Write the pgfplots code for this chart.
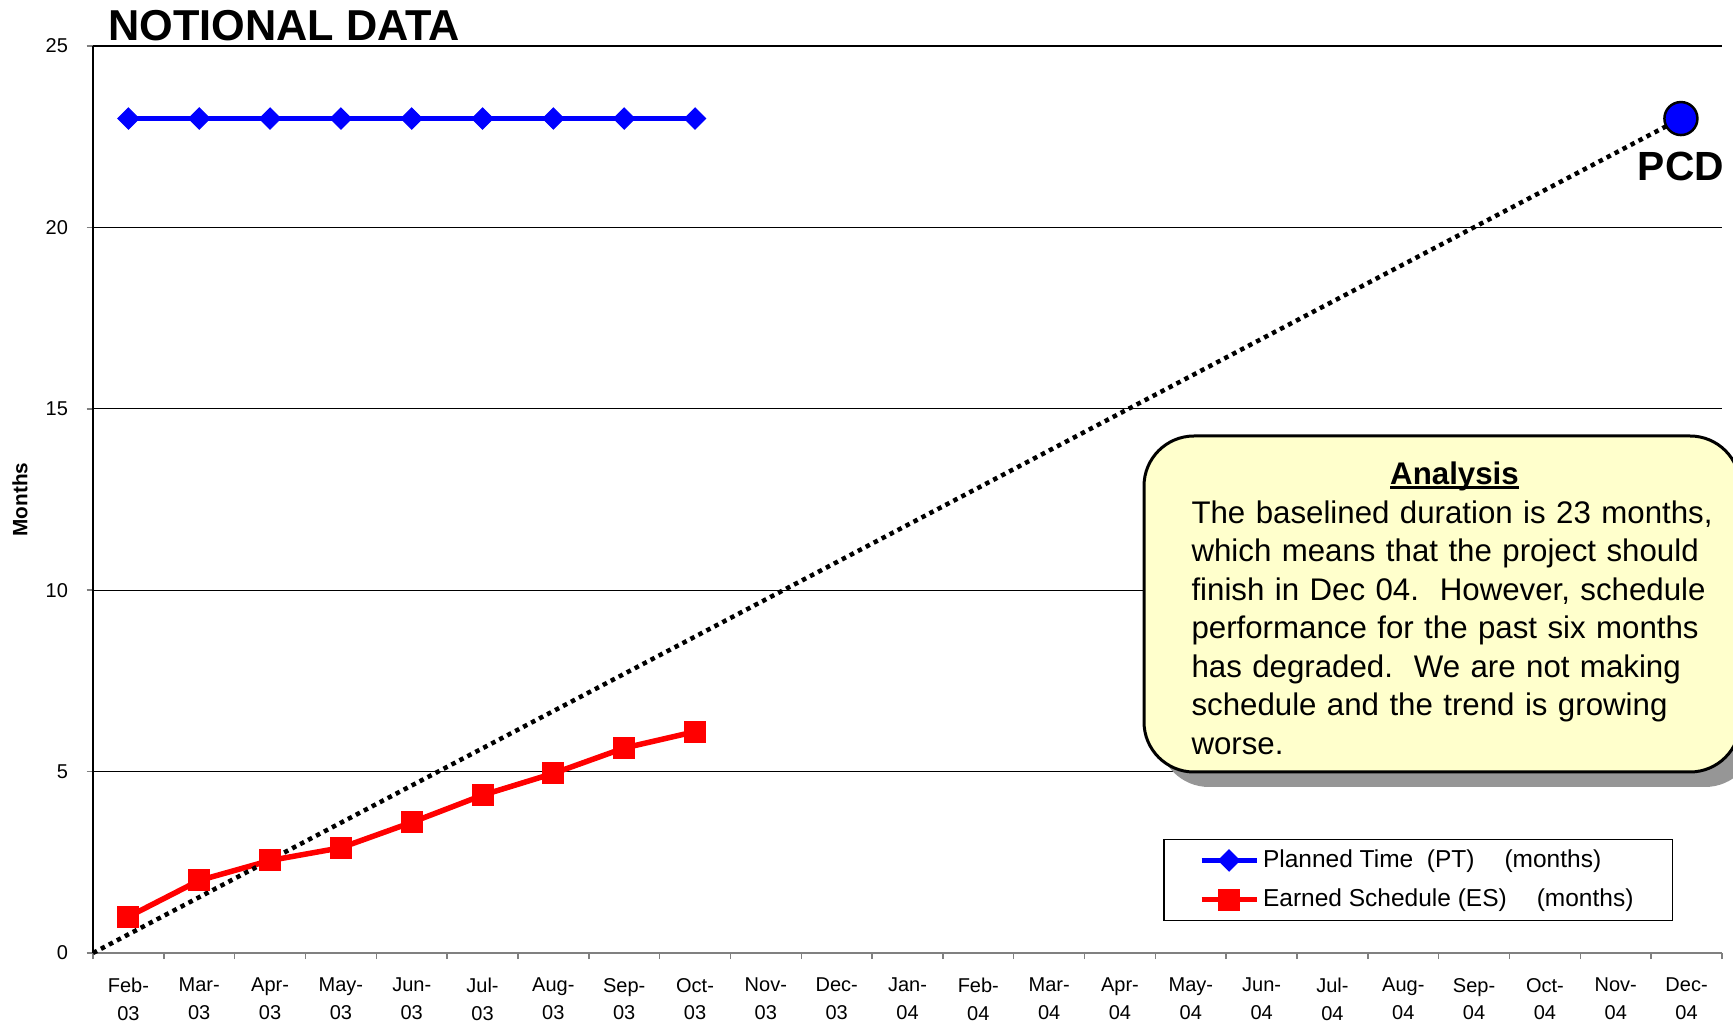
\documentclass[border=0pt]{standalone}
\usepackage{pgfplots}
\pgfplotsset{compat=1.18}
\usepackage{fontspec}
\setmainfont{Liberation Sans}
\usetikzlibrary{shadows}
\definecolor{ptblue}{RGB}{0,0,255}
\definecolor{esred}{RGB}{255,0,0}
\definecolor{boxfill}{RGB}{255,255,204}
\definecolor{shadowgray}{RGB}{150,150,150}
\definecolor{axgray}{RGB}{128,128,128}
\begin{document}
\begin{tikzpicture}
\begin{axis}[
  name=ax,
  at={(0,0)}, anchor=south west,
  width=651.6pt, height=362.8pt, scale only axis,
  xmin=-0.5, xmax=22.5, ymin=0, ymax=25,
  clip=false,
  axis x line*=bottom, axis y line*=left,
  x axis line style={draw=axgray, line width=0.9pt, -},
  y axis line style={draw=black, line width=0.6pt, -},
  xtick={-0.5,0.5,...,22.5},
  x tick label as interval,
  xticklabels={{Feb-\\03},{Mar-\\03},{Apr-\\03},{May-\\03},{Jun-\\03},{Jul-\\03},{Aug-\\03},{Sep-\\03},{Oct-\\03},{Nov-\\03},{Dec-\\03},{Jan-\\04},{Feb-\\04},{Mar-\\04},{Apr-\\04},{May-\\04},{Jun-\\04},{Jul-\\04},{Aug-\\04},{Sep-\\04},{Oct-\\04},{Nov-\\04},{Dec-\\04}},
  ytick={0,5,...,25},
  tick align=outside,
  major tick length=2.5pt,
  tick style={draw=axgray, line width=0.6pt},
  ymajorgrids,
  grid style={draw=black, line width=0.5pt},
  /pgf/number format/assume math mode=true,
  xticklabel style={align=center, font=\fontsize{8}{11}\selectfont, yshift=-4pt},
  yticklabel style={font=\fontsize{8}{9.6}\selectfont, xshift=-4pt},
  legend style={
    at={(axis description cs:1,0)}, anchor=south east,
    xshift=-19.6pt, yshift=12.7pt,
    draw=black, line width=0.6pt,
    font=\fontsize{9.8}{11.8}\selectfont,
    inner xsep=14pt, inner ysep=2pt,
    row sep=3.1pt,
    nodes={inner xsep=1.5pt},
  },
  legend cell align=left,
  legend image code/.code={
    \draw[mark repeat=2,mark phase=2,#1] plot coordinates {(0pt,0pt) (11pt,0pt) (22pt,0pt)};
  },
]
\addplot[color=ptblue, line width=2.2pt, mark=square*, mark size=3pt,
  mark options={rotate=45, line width=0.4pt, fill=ptblue}]
  coordinates {(0,23) (1,23) (2,23) (3,23) (4,23) (5,23) (6,23) (7,23) (8,23)};
\addlegendentry{Planned Time\ \ (PT)\hspace{12pt}(months)}
\addplot[color=esred, line width=2.2pt, mark=square*, mark size=4.2pt,
  mark options={line width=0.4pt, fill=esred}]
  coordinates {(0,1.0) (1,2.0) (2,2.55) (3,2.9) (4,3.6) (5,4.35) (6,4.95) (7,5.65) (8,6.1)};
\addlegendentry{Earned Schedule (ES)\hspace{12pt}(months)}
\addplot[forget plot, only marks, mark=*, mark size=6.6pt,
  mark options={fill=ptblue, draw=black, line width=1pt}]
  coordinates {(21.92,23)};
\addplot[forget plot, black, line width=1.8pt, dash pattern=on 1.8pt off 1.8pt]
  coordinates {(-0.5,0) (21.92,23)};
\node[anchor=base west, inner sep=0pt, font=\bfseries\fontsize{17.3}{20}\selectfont]
  at ([xshift=6pt,yshift=2.2pt]rel axis cs:0,1) {NOTIONAL DATA};
\node[anchor=north, inner sep=0pt, font=\bfseries\fontsize{16.3}{19}\selectfont]
  at ([yshift=-13.2pt]axis cs:21.92,23) {PCD};
\node[rotate=90, inner sep=0pt, font=\bfseries\fontsize{8.3}{10}\selectfont]
  at ([xshift=-29.2pt]rel axis cs:0,0.5) {Months};
\end{axis}
\fill[shadowgray, rounded corners=20pt]
  ([xshift=426.4pt,yshift=-162pt]ax.north west) rectangle ++(238.4pt,-134.4pt);
\draw[fill=boxfill, line width=1.2pt, rounded corners=20pt]
  ([xshift=420.4pt,yshift=-156pt]ax.north west) rectangle ++(238.4pt,-134.4pt);
\node[anchor=north west, inner sep=0pt, text width=235pt,
  font=\fontsize{12.5}{15.4}\selectfont]
  at ([xshift=439.2pt,yshift=-166.3pt]ax.north west)
  {\raggedright\makebox[210.4pt][c]{\bfseries\setbox0\hbox{Analysis}\rlap{\rule[-1.6pt]{\wd0}{1.1pt}}\box0}\par
  The baselined duration is 23 months,\\
  which means that the project should\\
  finish in Dec 04.\ \ However, schedule\\
  performance for the past six months\\
  has degraded.\ \ We are not making\\
  schedule and the trend is growing\\
  worse.};
\pgfresetboundingbox
\path ([xshift=-37.2pt,yshift=-27.6pt]ax.south west) rectangle ([xshift=4.4pt,yshift=18.4pt]ax.north east);
\end{tikzpicture}
\end{document}
